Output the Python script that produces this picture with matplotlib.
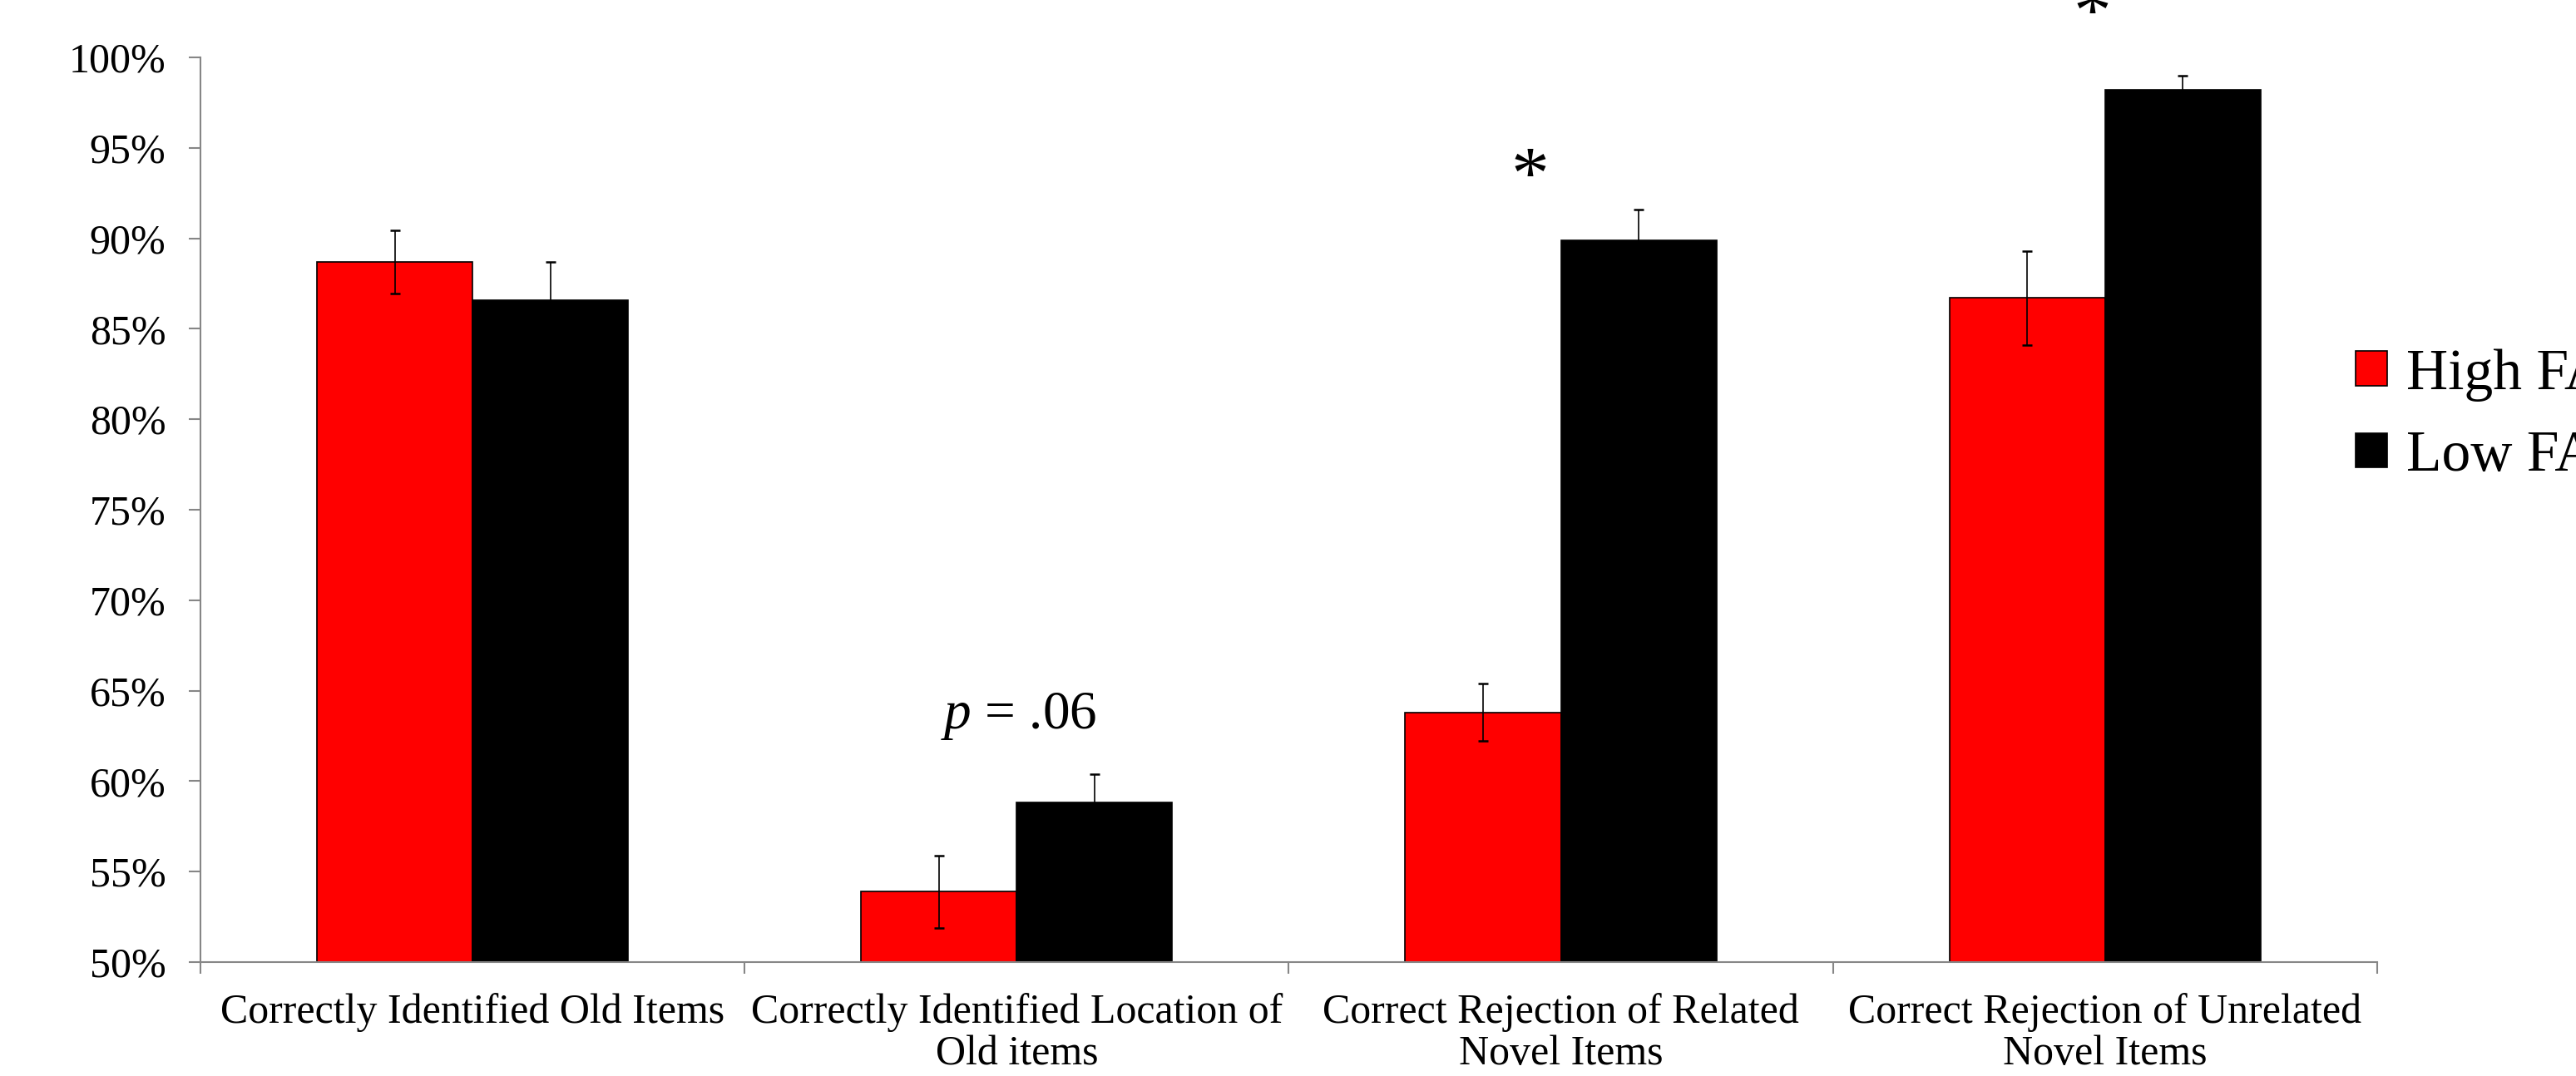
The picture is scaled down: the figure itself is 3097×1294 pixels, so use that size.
import matplotlib
matplotlib.use("Agg")
import matplotlib.pyplot as plt
from matplotlib.patches import Patch
import numpy as np

plt.rcParams['font.family'] = ['Liberation Serif', 'DejaVu Serif']
plt.rcParams['mathtext.fontset'] = 'custom'
plt.rcParams['mathtext.rm'] = 'Liberation Serif'
plt.rcParams['mathtext.it'] = 'Liberation Serif:italic'

# data (percent)
categories = ['Correctly Identified Old Items',
              'Correctly Identified Location of\nOld items',
              'Correct Rejection of Related\nNovel Items',
              'Correct Rejection of Unrelated\nNovel Items']
high_fa = [88.7, 53.9, 63.8, 86.7]
low_fa = [86.6, 58.8, 89.9, 98.2]
high_err = [1.75, 2.0, 1.6, 2.6]
low_err = [2.1, 1.6, 1.7, 0.8]
series_names = ['High FA', 'Low FA']
yticks = [50, 55, 60, 65, 70, 75, 80, 85, 90, 95, 100]

# annotations: (x in category units, y baseline, text, size)
notes = [(1.504, 62.9, r'$\it{p}$ = .06', 47),
         (2.444, 92.2, '*', 66),
         (3.477, 101.2, '*', 66)]

gray = '#868686'
fig = plt.figure(figsize=(30.97, 12.94), dpi=100)
ax = fig.add_axes([0.0778, 0.1059, 0.845, 0.8408])

x = np.arange(len(categories)) + 0.5
w = 0.286
ax.bar(x - w / 2, high_fa, w, color='#ff0000', edgecolor='black', linewidth=1.2, zorder=2)
ax.bar(x + w / 2, low_fa, w, color='black', edgecolor='black', linewidth=1.2, zorder=2)
ax.errorbar(x - w / 2, high_fa, yerr=high_err, fmt='none', ecolor='black',
            elinewidth=1.2, capsize=4.5, capthick=1.8, zorder=3)
ax.errorbar(x + w / 2, low_fa, yerr=low_err, fmt='none', ecolor='black',
            elinewidth=1.2, capsize=4.5, capthick=1.8, zorder=3)

ax.set_ylim(50, 100)
ax.set_xlim(0, len(categories))
ax.set_yticks(yticks)
ax.set_yticklabels([f'{v}%' for v in yticks])

ax.set_xticks(np.arange(len(categories) + 1))
ax.set_xticklabels([])
ax.set_xticks(x, minor=True)
ax.set_xticklabels(categories, minor=True, linespacing=1.1)

ax.tick_params(axis='y', direction='out', length=10, width=1.5, color=gray,
               labelsize=36, pad=20)
ax.tick_params(axis='x', which='major', direction='out', length=10, width=1.5, color=gray)
ax.tick_params(axis='x', which='minor', length=0, labelsize=36, pad=27)

for s in ['top', 'right']:
    ax.spines[s].set_visible(False)
for s in ['left', 'bottom']:
    ax.spines[s].set_color(gray)
    ax.spines[s].set_linewidth(1.5)

for nx, ny, txt, sz in notes:
    ax.text(nx, ny, txt, ha='center', va='baseline', fontsize=sz, clip_on=False)

handles = [Patch(facecolor='#ff0000', edgecolor='black', linewidth=1.2),
           Patch(facecolor='black', edgecolor='black', linewidth=1.2)]
fig.legend(handles, series_names, loc='center left', bbox_to_anchor=(0.9145, 0.6135),
           bbox_transform=fig.transFigure, frameon=False, fontsize=50,
           handlelength=0.55, handleheight=0.55, handletextpad=0.32,
           labelspacing=0.5, borderpad=0, borderaxespad=0)

fig.savefig('out.png', dpi=100)
